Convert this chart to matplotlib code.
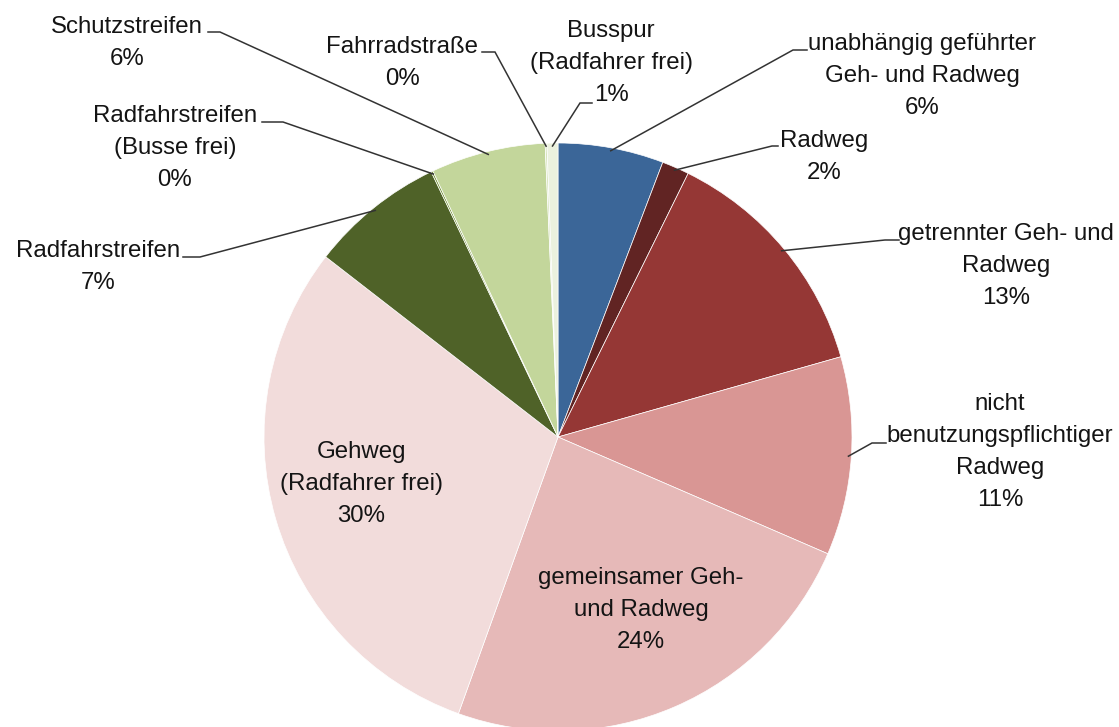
import matplotlib.pyplot as plt
import numpy as np

W, H = 1119, 727

names = ['unabhängig geführter\nGeh- und Radweg',
         'Radweg',
         'getrennter Geh- und\nRadweg',
         'nicht\nbenutzungspflichtiger\nRadweg',
         'gemeinsamer Geh-\nund Radweg',
         'Gehweg\n(Radfahrer frei)',
         'Radfahrstreifen',
         'Radfahrstreifen\n(Busse frei)',
         'Schutzstreifen',
         'Fahrradstraße',
         'Busspur\n(Radfahrer frei)']
values = [5.8, 1.5, 13.3, 10.9, 24.0, 30.0, 7.4, 0.1, 6.3, 0.1, 0.6]
colors = ['#3b6698', '#612423', '#953735', '#d99694', '#e6b9b8', '#f2dcdb',
          '#4f6228', '#77933c', '#c3d69b', '#d7e4bd', '#ebf1de']

# label placement in pixels (from top left): centre x, baseline of first line
label_x = [922, 824, 1006, 1000, 641, 361, 98, 175, 127, 402, 611]
label_y = [50, 147, 240, 410, 584, 458, 257, 122, 33, 53, 37]
# leader line: point at the text, knee point (None = label inside the slice)
leaders = [((807, 50), (793, 50)),
           ((778, 146), (772, 146)),
           ((899, 240), (885, 240)),
           ((886, 443), (872, 443)),
           None,
           None,
           ((183, 257), (200, 257)),
           ((262, 122), (283, 122)),
           ((208, 32), (220, 32)),
           ((482, 52), (495, 52)),
           ((592, 103), (580, 103))]

line_step = 32
cx, cy, rad = 558, H - 437, 294

fig = plt.figure(figsize=(W / 100, H / 100), dpi=100)
ax = fig.add_axes([0, 0, 1, 1])
wedges, _ = ax.pie(values, colors=colors, startangle=90, counterclock=False,
                   center=(cx, cy), radius=rad,
                   wedgeprops=dict(edgecolor='white', linewidth=0.5))
ax.set_xlim(0, W)
ax.set_ylim(0, H)
ax.set_aspect('equal')
ax.axis('off')

for i, w in enumerate(wedges):
    lines = names[i].split('\n') + ['{}%'.format(int(values[i] + 0.5))]
    for k, txt in enumerate(lines):
        ax.text(label_x[i], H - (label_y[i] + k * line_step), txt,
                ha='center', va='baseline', fontsize=17.3,
                family=['Liberation Sans', 'DejaVu Sans'], color='#141414')
    if leaders[i] is None:
        continue
    mid = np.deg2rad((w.theta1 + w.theta2) / 2)
    ax_x = cx + rad * 0.99 * np.cos(mid)
    ax_y = cy + rad * 0.99 * np.sin(mid)
    (x0, y0), (x1, y1) = leaders[i]
    ax.plot([x0, x1, ax_x], [H - y0, H - y1, ax_y], color='#333333', lw=1.1,
            solid_joinstyle='miter')

fig.savefig('out.png', dpi=100, facecolor='white')
